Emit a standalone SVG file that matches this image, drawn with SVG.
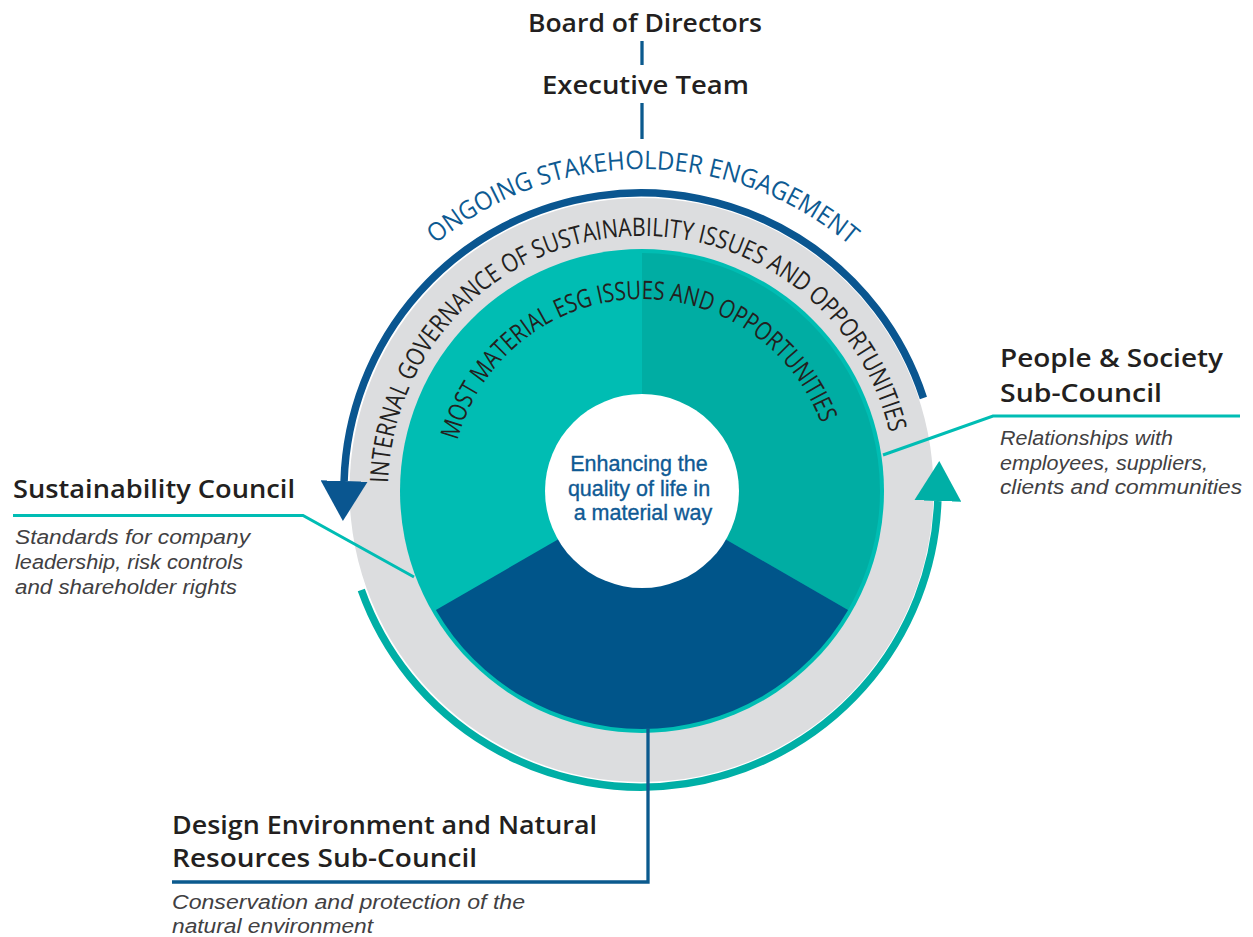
<svg xmlns="http://www.w3.org/2000/svg" xmlns:xlink="http://www.w3.org/1999/xlink" width="1253" height="937" viewBox="0 0 1253 937">
  <style>
    .head { font-family: "Open Sans", "Liberation Sans", sans-serif; font-weight: 600; font-size: 25px; fill: #231f20; }
    .desc { font-family: "Liberation Sans", Arial, sans-serif; font-style: italic; font-size: 19.5px; fill: #414042; }
    .arc-label { font-family: "Open Sans", "Liberation Sans", sans-serif; font-size: 25.5px; }
    .core { font-family: "Liberation Sans", Arial, sans-serif; font-size: 21.5px; fill: #0f5a94; stroke: #0f5a94; stroke-width: 0.35; }
    .teal-link { fill: none; stroke: #00bdb4; stroke-width: 3; }
    .blue-link { fill: none; stroke: #0b5a8e; stroke-width: 3.3; }
  </style>
  <defs>
    <marker id="head-blue" viewBox="0 -23.5 40 47" refX="0" refY="0" markerWidth="40" markerHeight="47" markerUnits="userSpaceOnUse" orient="auto">
      <path d="M0,-23.5 L40,0 L0,23.5 Z" fill="#0a5690"/>
    </marker>
    <marker id="head-teal" viewBox="0 -23.5 40 47" refX="0" refY="0" markerWidth="40" markerHeight="47" markerUnits="userSpaceOnUse" orient="auto">
      <path d="M0,-23.5 L40,0 L0,23.5 Z" fill="#00afa6"/>
    </marker>
    <path id="arc-ongoing" d="M 435.7 244.1 A 321 321 0 0 1 850.9 246.3"/>
    <path id="arc-internal" d="M 388.1 482.9 A 254 254 0 0 1 889.9 434.6"/>
    <path id="arc-material" d="M 457.5 440.6 A 191 191 0 0 1 821.5 424.7"/>
  </defs>

  <rect width="1253" height="937" fill="#ffffff"/>

  <!-- governance wheel -->
  <g id="wheel">
    <circle cx="641.5" cy="490" r="292" fill="#dcdddf"/>
    <path d="M 923.4 398 A 297 297 0 0 0 344.1 481" fill="none" stroke="#0a5690" stroke-width="7.5" marker-end="url(#head-blue)"/>
    <path d="M 361.3 590 A 297 297 0 0 0 937.8 501" fill="none" stroke="#00afa6" stroke-width="7.5" marker-end="url(#head-teal)"/>

    <circle cx="642" cy="491" r="242" fill="#00bdb3"/>
    <path d="M642 491 L642 253 A238 238 0 0 1 848.1 610 Z" fill="#00ada3"/>
    <path d="M642 491 L848.1 610 A238 238 0 0 1 435.9 610 Z" fill="#00558a"/>
    <circle cx="642" cy="491" r="97" fill="#ffffff"/>

    <text class="arc-label" fill="#0d5a92" font-size="25">
      <textPath href="#arc-ongoing" xlink:href="#arc-ongoing" textLength="450" lengthAdjust="spacingAndGlyphs">ONGOING STAKEHOLDER ENGAGEMENT</textPath>
    </text>
    <text class="arc-label" fill="#231f20">
      <textPath href="#arc-internal" xlink:href="#arc-internal" textLength="733" lengthAdjust="spacingAndGlyphs">INTERNAL GOVERNANCE OF SUSTAINABILITY ISSUES AND OPPORTUNITIES</textPath>
    </text>
    <text class="arc-label" fill="#231f20">
      <textPath href="#arc-material" xlink:href="#arc-material" textLength="482" lengthAdjust="spacingAndGlyphs">MOST MATERIAL ESG ISSUES AND OPPORTUNITIES</textPath>
    </text>

    <text class="core" text-anchor="middle">
      <tspan x="642" y="471">Enhancing the</tspan>
      <tspan x="642" y="495.5">quality of life in</tspan>
      <tspan x="643" y="520">a material way</tspan>
    </text>
  </g>

  <!-- connectors -->
  <g id="connectors">
    <line class="blue-link" x1="642" y1="41" x2="642" y2="65"/>
    <line class="blue-link" x1="642" y1="103" x2="642" y2="139"/>
    <polyline class="teal-link" points="13,515.5 303,515.5 414,577"/>
    <polyline class="teal-link" points="1240,416 993,416 883,455"/>
    <polyline class="blue-link" points="172,882 648,882 648,728"/>
  </g>

  <g id="board">
    <text class="head" x="528" y="32" textLength="234" lengthAdjust="spacingAndGlyphs">Board of Directors</text>
  </g>

  <g id="executive-team">
    <text class="head" x="542" y="94" textLength="207" lengthAdjust="spacingAndGlyphs">Executive Team</text>
  </g>

  <g id="sustainability-council">
    <text class="head" x="13" y="498" textLength="282" lengthAdjust="spacingAndGlyphs">Sustainability Council</text>
    <text class="desc" x="15" y="544" textLength="235" lengthAdjust="spacingAndGlyphs">Standards for company</text>
    <text class="desc" x="15" y="569" textLength="228" lengthAdjust="spacingAndGlyphs">leadership, risk controls</text>
    <text class="desc" x="15" y="594" textLength="222" lengthAdjust="spacingAndGlyphs">and shareholder rights</text>
  </g>

  <g id="people-society">
    <text class="head" x="1000" y="367" textLength="223" lengthAdjust="spacingAndGlyphs">People &amp; Society</text>
    <text class="head" x="1000" y="402" textLength="162" lengthAdjust="spacingAndGlyphs">Sub-Council</text>
    <text class="desc" x="1000" y="445" textLength="173" lengthAdjust="spacingAndGlyphs">Relationships with</text>
    <text class="desc" x="1000" y="469.5" textLength="208" lengthAdjust="spacingAndGlyphs">employees, suppliers,</text>
    <text class="desc" x="1000" y="494" textLength="242" lengthAdjust="spacingAndGlyphs">clients and communities</text>
  </g>

  <g id="design-environment">
    <text class="head" x="172" y="834" textLength="425" lengthAdjust="spacingAndGlyphs">Design Environment and Natural</text>
    <text class="head" x="172" y="867" textLength="305" lengthAdjust="spacingAndGlyphs">Resources Sub-Council</text>
    <text class="desc" x="172" y="909" textLength="353" lengthAdjust="spacingAndGlyphs">Conservation and protection of the</text>
    <text class="desc" x="172" y="933" textLength="201" lengthAdjust="spacingAndGlyphs">natural environment</text>
  </g>
</svg>
